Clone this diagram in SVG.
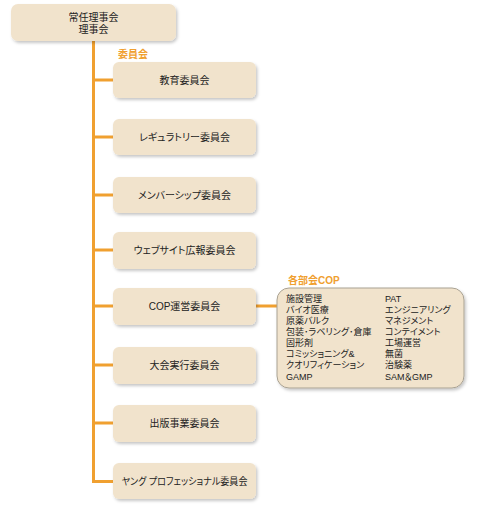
<svg xmlns="http://www.w3.org/2000/svg" width="484" height="520" viewBox="0 0 484 520">
<defs>
<filter id="sh" x="-10%" y="-20%" width="130%" height="160%">
<feDropShadow dx="1.5" dy="2" stdDeviation="1.5" flood-color="#000" flood-opacity="0.22"/>
</filter>
<style>
.box{fill:#f1e3cc;filter:url(#sh)}
.cop{fill:#f1e3cc;stroke:#a9a293;stroke-width:1;filter:url(#sh)}
.t,.s,.lbl{font-family:"Liberation Sans","Noto Sans CJK JP",sans-serif;font-feature-settings:"palt"}
.t{font-size:10px;fill:#222;text-anchor:middle}
.s{font-size:9px;fill:#222}
.lbl{font-size:10px;font-weight:bold;fill:#f0a030}
.ln{stroke:#f0a030;stroke-width:3;fill:none}
</style>
</defs>
<g id="connectors">
<path class="ln" d="M93.5 41 V481.5 H113"/>
<path class="ln" d="M93.5 80 H113 M93.5 137 H113 M93.5 195 H113 M93.5 250 H113 M93.5 306 H113 M93.5 365 H113 M93.5 423 H113 M256 306 H277"/>
</g>
<g id="top"><rect class="box" x="11" y="4" width="165" height="37" rx="7"/><text class="t" x="93.5" y="21">常任理事会</text><text class="t" x="93.5" y="33">理事会</text></g>
<text class="lbl" x="118" y="58">委員会</text>
<g id="n1"><rect class="box" x="113" y="62" width="143" height="36" rx="6"/><text class="t" x="184.5" y="83.5">教育委員会</text></g>
<g id="n2"><rect class="box" x="113" y="119" width="143" height="36" rx="6"/><text class="t" x="184.5" y="140.5">レギュラトリー委員会</text></g>
<g id="n3"><rect class="box" x="113" y="177" width="143" height="36" rx="6"/><text class="t" x="184.5" y="198.5">メンバーシップ委員会</text></g>
<g id="n4"><rect class="box" x="113" y="232" width="143" height="37" rx="6"/><text class="t" x="184.5" y="254">ウェブサイト広報委員会</text></g>
<g id="n5"><rect class="box" x="113" y="288" width="143" height="37" rx="6"/><text class="t" x="184.5" y="310">COP運営委員会</text></g>
<g id="n6"><rect class="box" x="113" y="347" width="143" height="37" rx="6"/><text class="t" x="184.5" y="369">大会実行委員会</text></g>
<g id="n7"><rect class="box" x="113" y="405" width="143" height="37" rx="6"/><text class="t" x="184.5" y="427">出版事業委員会</text></g>
<g id="n8"><rect class="box" x="113" y="463" width="143" height="36" rx="6"/><text class="t" x="184.5" y="484.5" textLength="126" lengthAdjust="spacingAndGlyphs">ヤング プロフェッショナル委員会</text></g>
<text class="lbl" x="288" y="284">各部会COP</text>
<g id="cop">
<rect class="cop" x="277" y="288" width="187" height="100" rx="12"/>
<text class="s" x="286" y="302">施設管理</text>
<text class="s" x="286" y="313">バイオ医療</text>
<text class="s" x="286" y="324">原薬バルク</text>
<text class="s" x="286" y="335">包装･ラベリング･倉庫</text>
<text class="s" x="286" y="346">固形剤</text>
<text class="s" x="286" y="357">コミッショニング&amp;</text>
<text class="s" x="286" y="368">クオリフィケーション</text>
<text class="s" x="286" y="380">GAMP</text>
<text class="s" x="385" y="302">PAT</text>
<text class="s" x="385" y="313">エンジニアリング</text>
<text class="s" x="385" y="324">マネジメント</text>
<text class="s" x="385" y="335">コンテイメント</text>
<text class="s" x="385" y="346">工場運営</text>
<text class="s" x="385" y="357">無菌</text>
<text class="s" x="385" y="368">治験薬</text>
<text class="s" x="385" y="380">SAM＆GMP</text>
</g>
</svg>
